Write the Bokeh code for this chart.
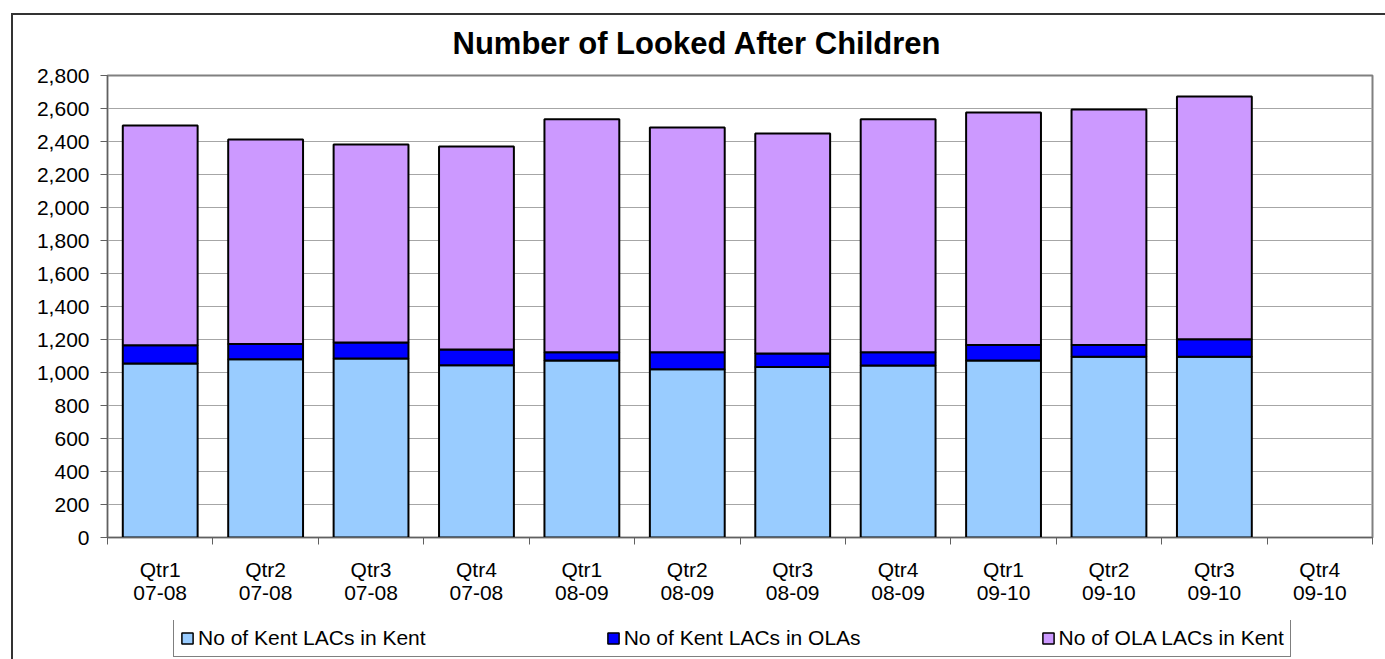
import numpy as np
from bokeh.plotting import figure
from bokeh.layouts import column
from bokeh.models import (FixedTicker, NumeralTickFormatter, Legend, LegendItem,
                          Range1d, ColumnDataSource)
from bokeh.embed import file_html
from bokeh.resources import INLINE

# ---- data ----
quarters = ["Qtr1", "Qtr2", "Qtr3", "Qtr4"] * 3
years = ["07-08"] * 4 + ["08-09"] * 4 + ["09-10"] * 4
kent_in_kent = [1055, 1081, 1085, 1044, 1073, 1020, 1034, 1042, 1073, 1095, 1095]
kent_in_olas = [110, 91, 97, 95, 50, 103, 81, 81, 94, 72, 107]
ola_in_kent = [1332, 1240, 1200, 1231, 1412, 1362, 1333, 1412, 1409, 1427, 1471]
series_names = ["No of Kent LACs in Kent", "No of Kent LACs in OLAs", "No of OLA LACs in Kent"]
series_colors = ["#99CCFF", "#0000FF", "#CC99FF"]
y_ticks = list(range(0, 2801, 200))
title_text = "Number of Looked After Children"

FONT = "Liberation Sans"
EDGE = "#333333"
n_cat = len(quarters)
centers = [i + 0.5 for i in range(n_cat)]
labels = {c: f"{q}\n{y}" for c, q, y in zip(centers, quarters, years)}

src = ColumnDataSource(dict(
    x=centers[:len(kent_in_kent)],
    a=kent_in_kent, b=kent_in_olas, c=ola_in_kent,
))

frame_css_top = (f"linear-gradient({EDGE},{EDGE}) 11px 13px / 2px 100% no-repeat, "
                 f"linear-gradient({EDGE},{EDGE}) 11px 13px / 100% 2px no-repeat, white")
frame_css_bottom = f"linear-gradient({EDGE},{EDGE}) 11px 0px / 2px 100% no-repeat, white"

# ---------- main chart ----------
p = figure(width=1385, height=620, output_backend="svg", toolbar_location=None,
           x_range=Range1d(0, n_cat), y_range=Range1d(0, 2800),
           min_border_left=107, min_border_right=13, min_border_top=75,
           min_border_bottom=83, background_fill_color="white",
           border_fill_color=None, styles={"background": frame_css_top})

rs = p.vbar_stack(["a", "b", "c"], x="x", width=0.71, source=src,
                  color=series_colors, line_color="black", line_width=2)

p.title.text = title_text
p.title.text_font = FONT
p.title.text_font_size = "31px"
p.title.text_font_style = "bold"
p.title.text_color = "black"
p.title.align = "left"
p.title.offset = 345
p.title.standoff = 29

p.yaxis.ticker = FixedTicker(ticks=y_ticks)
p.yaxis.formatter = NumeralTickFormatter(format="0,0")
p.yaxis.major_label_text_font = FONT
p.yaxis.major_label_text_font_size = "21px"
p.yaxis.major_label_text_color = "black"
p.yaxis.major_tick_out = 7
p.yaxis.major_tick_in = 0
p.yaxis.minor_tick_out = 0
p.yaxis.minor_tick_in = 0
p.yaxis.axis_line_color = "#606060"
p.yaxis.major_tick_line_color = "#606060"
p.yaxis.major_label_standoff = 11

p.xaxis.ticker = FixedTicker(ticks=centers, minor_ticks=list(range(n_cat + 1)))
p.xaxis.major_label_overrides = labels
p.xaxis.major_label_text_font = FONT
p.xaxis.major_label_text_font_size = "21px"
p.xaxis.major_label_text_line_height = 1.0
p.xaxis.major_label_text_color = "black"
p.xaxis.major_tick_out = 0
p.xaxis.major_tick_in = 0
p.xaxis.minor_tick_out = 7
p.xaxis.minor_tick_in = 0
p.xaxis.minor_tick_line_color = "#606060"
p.xaxis.axis_line_color = "#606060"
p.xaxis.major_label_standoff = 13

p.xgrid.visible = False
p.ygrid.ticker = FixedTicker(ticks=y_ticks)
p.ygrid.grid_line_color = "#A6A6A6"
p.ygrid.grid_line_width = 1
p.outline_line_color = "#808080"
p.outline_line_width = 2

# ---------- legend strip: same series drawn small, fully covered by the opaque legend box ----------
lg = figure(width=1385, height=39, output_backend="svg", toolbar_location=None,
            x_range=Range1d(-1, n_cat + 1), y_range=Range1d(-400, 3000),
            x_axis_location=None, y_axis_location=None,
            min_border_left=0, min_border_right=0, min_border_top=0, min_border_bottom=0,
            background_fill_color=None, border_fill_color=None,
            outline_line_color=None, styles={"background": frame_css_bottom})
lg.xgrid.visible = False
lg.ygrid.visible = False
swatches = lg.vbar_stack(["a", "b", "c"], x="x", width=0.71, source=src,
                         color=series_colors, line_color="black", line_width=1.5)
items = [LegendItem(label=n, renderers=[r]) for n, r in zip(series_names, swatches)]
leg = Legend(items=items, orientation="horizontal", location=(66, 2),
             label_text_font=FONT, label_text_font_size="21px", label_text_color="black",
             glyph_width=14, glyph_height=14, label_standoff=4, spacing=180,
             padding=6, margin=0, border_line_color="black", border_line_width=1,
             background_fill_color="white", background_fill_alpha=1)
lg.add_layout(leg, "center")

layout = column(p, lg, spacing=0)
open("out.html", "w").write(file_html(layout, INLINE))
